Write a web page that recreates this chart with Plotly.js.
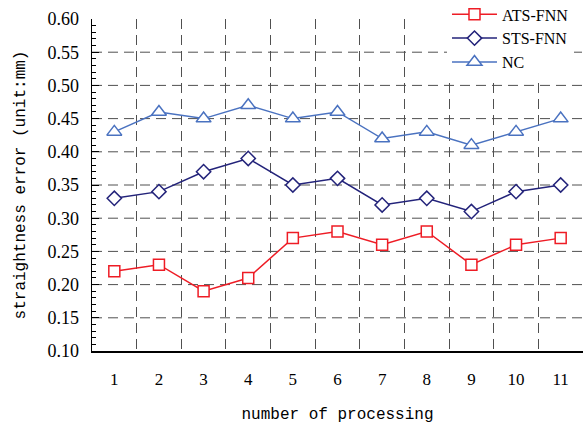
<!DOCTYPE html>
<html>
<head>
<meta charset="utf-8">
<script src="https://cdn.plot.ly/plotly-3.0.1.min.js"></script>
<style>html,body{margin:0;padding:0;background:#fff;}#chart{width:583px;height:424px;}</style>
</head>
<body>
<div id="chart"></div>
<script>
const runs = [1,2,3,4,5,6,7,8,9,10,11];
const atsFnn = [0.22,0.23,0.19,0.21,0.27,0.28,0.26,0.28,0.23,0.26,0.27];
const stsFnn = [0.33,0.34,0.37,0.39,0.35,0.36,0.32,0.33,0.31,0.34,0.35];
const nc = [0.43,0.46,0.45,0.47,0.45,0.46,0.42,0.43,0.41,0.43,0.45];
const yTicks = [0.10,0.15,0.20,0.25,0.30,0.35,0.40,0.45,0.50,0.55,0.60];
const yGrid = [0.15,0.20,0.25,0.30,0.35,0.40,0.45,0.50,0.55];
const xGrid = [1.5,2.5,3.5,4.5,5.5,6.5,7.5,8.5,9.5,10.5];
const names = ['ATS-FNN','STS-FNN','NC'];
const SERIF = '"Liberation Serif", "Times New Roman", serif';
const MONO = '"Liberation Mono", "Courier New", monospace';

function series(y, name, color, symbol, size){
  return {x: runs, y: y, name: name, type:'scatter', mode:'lines+markers',
    line:{color: color, width:1.5},
    marker:{symbol: symbol, size: size, color:'#ffffff', line:{color: color, width:1.5}}};
}
const data = [
  series(atsFnn, names[0], '#ee1c25', 'square', 11),
  series(stsFnn, names[1], '#23237a', 'diamond', 11),
  series(nc, names[2], '#4a72c0', 'triangle-up', 13)
];
const shapes = yGrid.map(v => ({type:'line', xref:'paper', yref:'y', x0:0, x1:1, y0:v, y1:v,
  line:{color:'#505050', width:1, dash:'10px,6px'}, layer:'below'}));
const layout = {
  width:583, height:424,
  margin:{l:92, r:0, t:19, b:73, autoexpand:false},
  paper_bgcolor:'#fff', plot_bgcolor:'#fff',
  font:{family:SERIF, color:'#000', size:17},
  showlegend:true,
  legend:{x:0.723, y:1.065, xanchor:'left', yanchor:'top', bgcolor:'#ffffff',
    font:{family:SERIF, size:16}, tracegroupgap:0, itemwidth:45},
  xaxis:{range:[0.5,11.5], tickvals:runs, ticktext:runs.map(String), showgrid:false, zeroline:false,
    showline:true, linecolor:'#000', linewidth:1.5, ticks:'', ticklabelstandoff:12,
    tickfont:{family:SERIF, size:17}, automargin:false,
    minor:{tickvals:xGrid, showgrid:true, gridcolor:'#505050', gridwidth:1, griddash:'10px,6px', ticks:''},
    title:{text:'number of processing', font:{family:MONO, size:16}, standoff:20}},
  yaxis:{range:[0.10,0.60], tickvals:yTicks, ticktext:yTicks.map(v=>v.toFixed(2)), showgrid:false, zeroline:false,
    showline:true, linecolor:'#000', linewidth:1.5, ticks:'inside', ticklen:7, tickcolor:'#000', tickwidth:1,
    tickfont:{family:SERIF, size:18}, ticklabelstandoff:8, automargin:false,
    minor:{dtick:0.01, ticks:'inside', ticklen:4, tickcolor:'#000', tickwidth:1, showgrid:false},
    title:{text:'straightness error (unit:mm)', font:{family:MONO, size:16}, standoff:18}},
  shapes: shapes
};
Plotly.newPlot('chart', data, layout, {displayModeBar:false, staticPlot:true});
</script>
</body>
</html>
